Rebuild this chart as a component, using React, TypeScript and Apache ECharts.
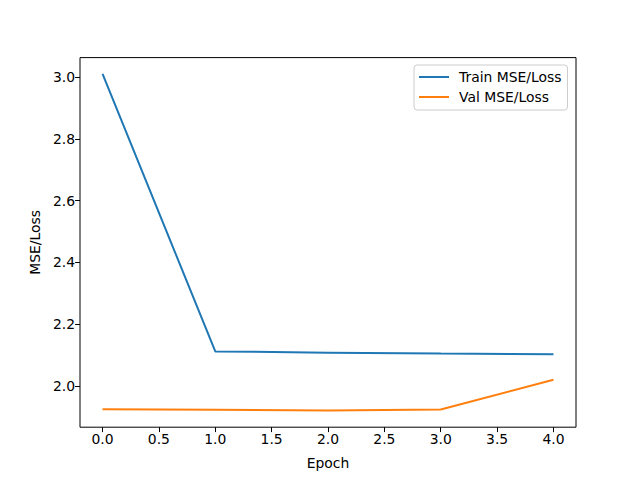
import React, { useEffect, useRef } from "react";
import * as echarts from "echarts";

const epochs = [0, 1, 2, 3, 4];
const trainLoss = [3.01, 2.112, 2.108, 2.105, 2.103];
const valLoss = [1.925, 1.923, 1.921, 1.924, 2.02];
const xTicks = [0, 0.5, 1, 1.5, 2, 2.5, 3, 3.5, 4];
const yTicks = [2.0, 2.2, 2.4, 2.6, 2.8, 3.0];

const FONT = "DejaVu Sans";
const LINE_ICON = "path://M0,0 L30,0 L30,2 L0,2 Z";

export default function App() {
  const ref = useRef<HTMLDivElement>(null);
  useEffect(() => {
    if (!ref.current) return;
    const chart = echarts.init(ref.current, null, { renderer: "svg" });
    chart.setOption({
      animation: false,
      backgroundColor: "#ffffff",
      grid: {
        left: 80,
        right: 64,
        top: 57.6,
        bottom: 52.8,
        show: true,
        borderColor: "#000",
        borderWidth: 1,
        backgroundColor: "transparent",
      },
      legend: {
        left: 414,
        top: 65,
        orient: "vertical",
        padding: [5, 6, 6, 5],
        itemGap: 6,
        itemWidth: 30,
        itemHeight: 14,
        icon: LINE_ICON,
        borderColor: "#cccccc",
        borderWidth: 1,
        borderRadius: 3,
        backgroundColor: "rgba(255,255,255,0.8)",
        textStyle: { fontFamily: FONT, fontSize: 13.9, color: "#000", padding: [0, 0, 0, 5] },
        data: ["Train MSE/Loss", "Val MSE/Loss"],
      },
      xAxis: {
        type: "value",
        min: -0.2,
        max: 4.2,
        name: "Epoch",
        nameLocation: "middle",
        nameGap: 29,
        nameTextStyle: { fontFamily: FONT, fontSize: 13.9, color: "#000" },
        axisLine: { show: false, onZero: false },
        splitLine: { show: false },
        axisTick: {
          show: true,
          inside: false,
          length: 4.9,
          lineStyle: { color: "#000", width: 1 },
          customValues: xTicks,
        },
        axisLabel: {
          margin: 5,
          fontFamily: FONT,
          fontSize: 13.9,
          color: "#000",
          customValues: xTicks,
          formatter: (v: number) => v.toFixed(1),
        },
      },
      yAxis: {
        type: "value",
        min: 1.8667,
        max: 3.0628,
        name: "MSE/Loss",
        nameLocation: "middle",
        nameGap: 36,
        nameTextStyle: { fontFamily: FONT, fontSize: 13.9, color: "#000" },
        axisLine: { show: false, onZero: false },
        splitLine: { show: false },
        axisTick: {
          show: true,
          inside: false,
          length: 4.9,
          lineStyle: { color: "#000", width: 1 },
          customValues: yTicks,
        },
        axisLabel: {
          margin: 5,
          fontFamily: FONT,
          fontSize: 13.9,
          color: "#000",
          customValues: yTicks,
          formatter: (v: number) => v.toFixed(1),
        },
      },
      series: [
        {
          name: "Train MSE/Loss",
          type: "line",
          data: epochs.map((e, i) => [e, trainLoss[i]]),
          symbol: "none",
          lineStyle: { color: "#1f77b4", width: 2 },
          itemStyle: { color: "#1f77b4" },
        },
        {
          name: "Val MSE/Loss",
          type: "line",
          data: epochs.map((e, i) => [e, valLoss[i]]),
          symbol: "none",
          lineStyle: { color: "#ff7f0e", width: 2 },
          itemStyle: { color: "#ff7f0e" },
        },
      ],
    });
    return () => chart.dispose();
  }, []);
  return (
    <div
      ref={ref}
      style={{ position: "fixed", left: 0, top: 0, width: 640, height: 480 }}
    />
  );
}
